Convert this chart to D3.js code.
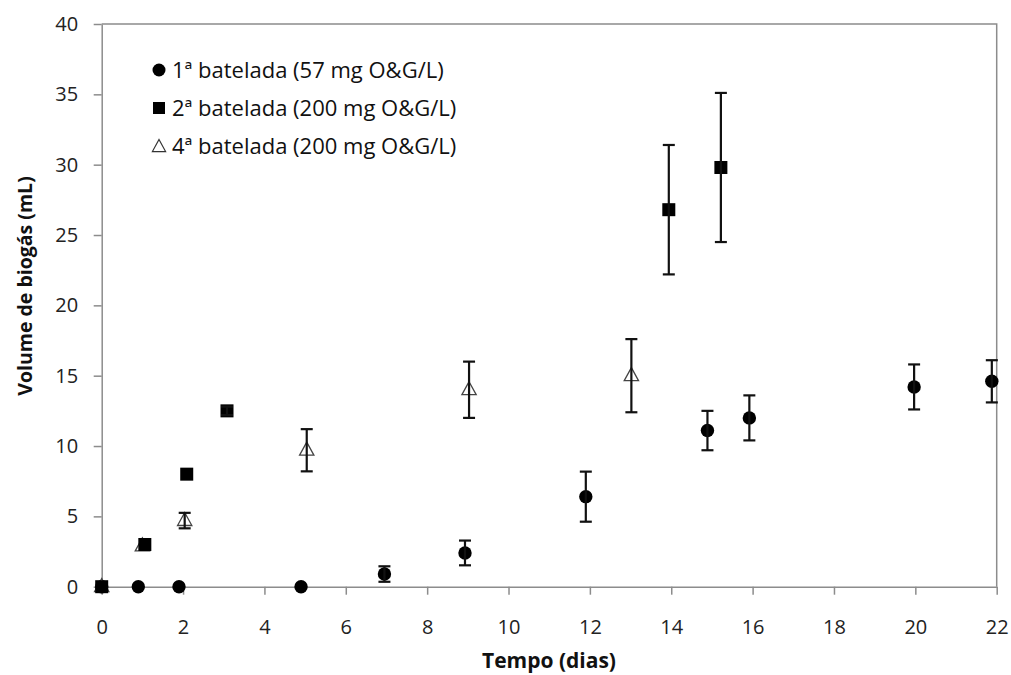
<!DOCTYPE html>
<html><head><meta charset="utf-8">
<script src="https://cdn.jsdelivr.net/npm/d3@7"></script>
<style>body{margin:0;background:#fff}svg{display:block}text{font-family:"Open Sans","Noto Sans",sans-serif}</style>
</head><body><div id="chart"></div>
<script>
// Series 1: 1ª batelada (circles)
const s1x = [0, 0.9, 1.9, 4.9, 6.95, 8.93, 11.9, 14.89, 15.92, 19.97, 21.88];
const s1y = [0, 0, 0, 0, 0.9, 2.4, 6.4, 11.1, 12.0, 14.2, 14.6];
const s1e = [0, 0, 0, 0, 0.55, 0.88, 1.78, 1.4, 1.6, 1.6, 1.5];
// Series 2: 2ª batelada (squares)
const s2x = [0, 1.06, 2.09, 3.08, 13.94, 15.22];
const s2y = [0, 3.0, 8.0, 12.5, 26.8, 29.8];
const s2e = [0, 0, 0, 0.3, 4.6, 5.3];
// Series 3: 4ª batelada (open triangles)
const s3x = [0, 1.0, 2.04, 5.04, 9.03, 13.02];
const s3y = [0, 2.9, 4.7, 9.7, 14.0, 15.0];
const s3e = [0, 0, 0.55, 1.5, 2.0, 2.6];
const legendLabels = ["1ª batelada (57 mg O&G/L)", "2ª batelada (200 mg O&G/L)", "4ª batelada (200 mg O&G/L)"];
const xTicks = [0,2,4,6,8,10,12,14,16,18,20,22];
const yTicks = [0,5,10,15,20,25,30,35,40];
const xTitle = "Tempo (dias)";
const yTitle = "Volume de biogás (mL)";

const W = 1011, H = 675;
const m = {left: 101.7, right: 1011-996.7, top: 24, bottom: 675-586.7};
const svg = d3.select("#chart").append("svg").attr("width", W).attr("height", H);
const x = d3.scaleLinear().domain([0,22]).range([m.left, W-m.right]);
const y = d3.scaleLinear().domain([0,40]).range([H-m.bottom, m.top]);
const axisColor = "#8c8c8c";

// plot border top/right
svg.append("path").attr("d", `M${x(0)},${y(40)}H${x(22)}V${y(0)}`).attr("fill","none").attr("stroke", axisColor).attr("stroke-width",1.5);

const xa = svg.append("g").attr("transform", `translate(0,${y(0)})`).call(d3.axisBottom(x).tickValues(xTicks).tickSize(8).tickPadding(25).tickSizeOuter(0));
const ya = svg.append("g").attr("transform", `translate(${x(0)},0)`).call(d3.axisLeft(y).tickValues(yTicks).tickSize(8).tickPadding(15.5).tickSizeOuter(0));
[xa, ya].forEach(g => {
  g.attr("font-size", 20).attr("font-family", '"Open Sans",sans-serif');
  g.selectAll("path,line").attr("stroke", axisColor).attr("stroke-width", 1.5);
  g.selectAll("text").attr("font-size", 20).attr("fill", "#222");
});

svg.append("text").attr("x", 549).attr("y", 668).attr("text-anchor","middle")
  .attr("font-size", 21).attr("font-weight","bold").attr("fill","#111").text(xTitle);
svg.append("text").attr("transform", `translate(32,286) rotate(-90)`).attr("text-anchor","middle")
  .attr("font-size", 19.5).attr("font-weight","bold").attr("fill","#111").text(yTitle);

function errBars(xs, ys, es) {
  const g = svg.append("g").attr("stroke","#111").attr("stroke-width",2.2);
  xs.forEach((xv,i) => {
    if (!es[i]) return;
    const cx = x(xv), t = y(ys[i]+es[i]), b = y(ys[i]-es[i]);
    g.append("line").attr("x1",cx).attr("x2",cx).attr("y1",t).attr("y2",b);
    g.append("line").attr("x1",cx-6).attr("x2",cx+6).attr("y1",t).attr("y2",t);
    g.append("line").attr("x1",cx-6).attr("x2",cx+6).attr("y1",b).attr("y2",b);
  });
}
function triPath(cx, cy, s) {
  return `M${cx},${cy-s*0.62}L${cx+s*0.55},${cy+s*0.38}L${cx-s*0.55},${cy+s*0.38}Z`;
}

// circles
svg.append("g").selectAll("circle").data(s1x).join("circle")
  .attr("cx", d => x(d)).attr("cy", (d,i) => y(s1y[i])).attr("r", 6.7).attr("fill","#000");
errBars(s1x, s1y, s1e);
// triangles
svg.append("g").selectAll("path").data(s3x).join("path")
  .attr("d", (d,i) => triPath(x(d), y(s3y[i]), 13)).attr("fill","#fff").attr("stroke","#444").attr("stroke-width",1.3);
errBars(s3x, s3y, s3e);
// squares
svg.append("g").selectAll("rect").data(s2x).join("rect")
  .attr("x", d => x(d)-6.5).attr("y", (d,i) => y(s2y[i])-6.5).attr("width",13).attr("height",13).attr("fill","#000");
errBars(s2x, s2y, s2e);

// legend
const lg = svg.append("g");
const ly = [70, 108, 146];
lg.append("circle").attr("cx",159).attr("cy",ly[0]).attr("r",6.5).attr("fill","#000");
lg.append("rect").attr("x",153).attr("y",ly[1]-6).attr("width",12).attr("height",12).attr("fill","#000");
lg.append("path").attr("d", triPath(159, ly[2]+1, 12)).attr("fill","#fff").attr("stroke","#333").attr("stroke-width",1.2);
legendLabels.forEach((t,i) => {
  lg.append("text").attr("x",172).attr("y",ly[i]).attr("dy","0.36em").attr("font-size",22).attr("fill","#111").text(t);
});
</script></body></html>
